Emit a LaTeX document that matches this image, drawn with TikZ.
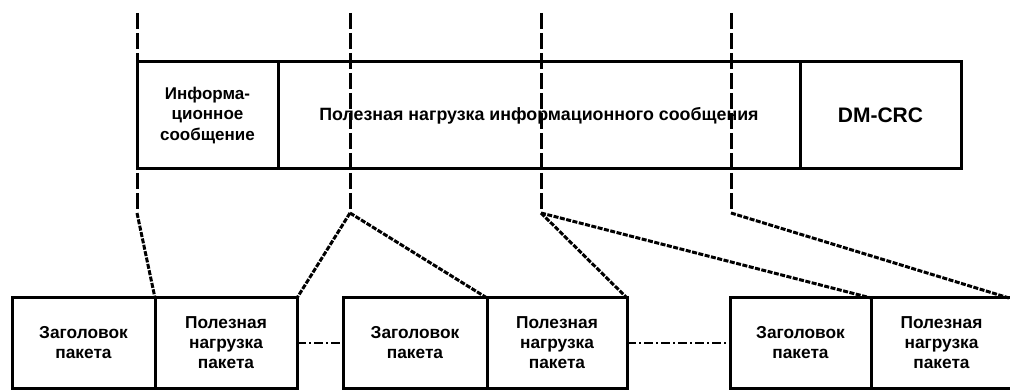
\documentclass[tikz,border=0pt]{standalone}
\usepackage{fontspec}
\setmainfont{Liberation Sans}
\begin{document}
\begin{tikzpicture}[x=1pt,y=-1pt,
  cell/.style={draw, line width=3pt, inner sep=0pt, outer sep=0pt, align=center,
    anchor=north west},
  topcell/.style={cell, minimum height=107pt, font=\bfseries\fontsize{17}{20.5}\selectfont},
  botcell/.style={cell, minimum height=90pt, font=\bfseries\fontsize{17.3}{20}\selectfont},
  vdash/.style={line width=3pt, dash pattern=on 16pt off 4pt},
  diag/.style={line width=3pt, dash pattern=on 5pt off 1.5pt},
  dashdot/.style={line width=2.5pt, dash pattern=on 9pt off 3pt on 2pt off 3pt}]
\useasboundingbox (0,0) rectangle (1010,390);
\begin{scope}
\clip (0,0) rectangle (1010,390);
% top row
\node[topcell, minimum width=141pt] (hdr) at (137,62) {Информа-\\ционное\\сообщение};
\node[topcell, minimum width=522pt, font=\bfseries\fontsize{17.8}{21}\selectfont] (pay) at (278,62) {Полезная нагрузка информационного сообщения};
\node[topcell, minimum width=161pt, font=\bfseries\fontsize{21}{24}\selectfont] (crc) at (800,62) {DM-CRC};
% bottom row
\node[botcell, minimum width=143pt] (h1) at (12,298) {Заголовок\\пакета};
\node[botcell, minimum width=142pt] (p1) at (155,298) {Полезная\\нагрузка\\пакета};
\node[botcell, minimum width=144pt] (h2) at (343,298) {Заголовок\\пакета};
\node[botcell, minimum width=140pt] (p2) at (487,298) {Полезная\\нагрузка\\пакета};
\node[botcell, minimum width=141pt] (h3) at (730,298) {Заголовок\\пакета};
\node[botcell, minimum width=141pt] (p3) at (871,298) {Полезная\\нагрузка\\пакета};
% dashed verticals
\coordinate (t1) at (137,13); \coordinate (k1) at (137,213);
\coordinate (t2) at (350,13); \coordinate (k2) at (350,213);
\coordinate (t3) at (541,13); \coordinate (k3) at (541,213);
\coordinate (t4) at (731,13); \coordinate (k4) at (731,213);
\draw[vdash] (t1) -- (k1);
\draw[vdash] (t2) -- (k2);
\draw[vdash] (t3) -- (k3);
\draw[vdash] (t4) -- (k4);
% diagonals
\draw[diag] (k1) -- (p1.north west);
\draw[diag] (k2) -- (p1.north east);
\draw[diag] (k2) -- (h2.north east);
\draw[diag] (k3) -- (p2.north east);
\draw[diag] (k3) -- (h3.north east);
\draw[diag] (k4) -- ([xshift=-3pt]p3.north east);
% dash-dot links
\draw[dashdot] (p1.east) -- (h2.west);
\draw[dashdot] (p2.east) -- (h3.west);
\end{scope}
\end{tikzpicture}
\end{document}
